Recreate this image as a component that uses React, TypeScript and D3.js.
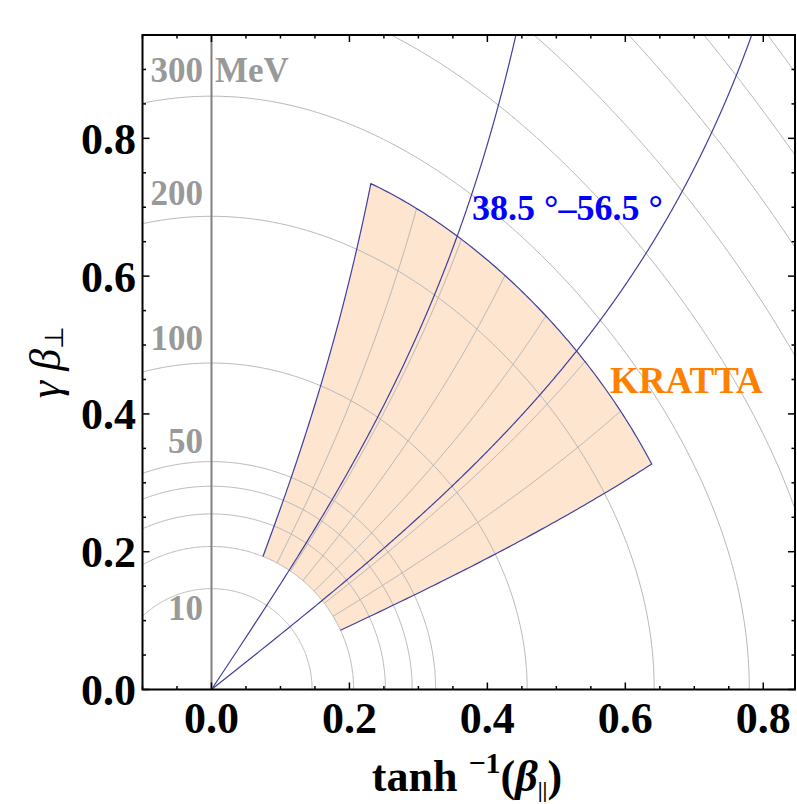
import React from 'react';
import * as d3 from 'd3';

// proton kinematics: x = atanh(beta_par), y = gamma*beta_perp
const PROTON_MASS = 938.27;

const energyArcs = [10, 20, 30, 40, 50, 100, 200, 300, 400, 500, 600, 700, 800];
const energyLabels = ['10', '50', '100', '200', '300'];
const energyLabelY = [0.101, 0.343, 0.493, 0.703, 0.882];
const angleLines = [38.5, 56.5];
const krattaAngles = [24.5, 68.5];
const krattaEnergies = [20, 257];
const krattaColumns = [30.8, 37.1, 43.4, 49.6, 55.9, 62.2];
const xTicks = [0, 0.2, 0.4, 0.6, 0.8];
const yTicks = [0, 0.2, 0.4, 0.6, 0.8];

const W = 797;
const H = 804;
const left = 142.5;
const right = 795;
const top = 35;
const bottom = 689.5;

const FONT = '"Liberation Serif", "Times New Roman", serif';

function kin(T: number, thetaDeg: number): [number, number] {
  const g = 1 + T / PROTON_MASS;
  const p = Math.sqrt(g * g - 1);
  const b = p / g;
  const th = (thetaDeg * Math.PI) / 180;
  return [Math.atanh(b * Math.cos(th)), p * Math.sin(th)];
}

const App = () => {
  const x = d3.scaleLinear().domain([-0.1, 0.846]).range([left, right]);
  const y = d3.scaleLinear().domain([0, 0.95]).range([bottom, top]);
  const line = d3
    .line<[number, number]>()
    .x((d) => x(d[0]))
    .y((d) => y(d[1]));

  const thetas = d3.range(0, 180.01, 0.5);
  const arcPath = (T: number) => line(thetas.map((t) => kin(T, t)));
  const energies = d3.range(0, 1600, 1);
  const rayPath = (th: number) => line(energies.map((e) => kin(e, th)));

  const [a0, a1] = krattaAngles;
  const [e0, e1] = krattaEnergies;
  const arcSpan = (T: number, from: number, to: number) =>
    d3.range(0, 101).map((i) => kin(T, from + ((to - from) * i) / 100));
  const raySpan = (th: number, from: number, to: number) =>
    d3.range(0, 101).map((i) => kin(from + ((to - from) * i) / 100, th));
  const kratta = [
    ...arcSpan(e1, a0, a1),
    ...raySpan(a1, e1, e0),
    ...arcSpan(e0, a1, a0),
    ...raySpan(a0, e0, e1),
  ];
  // blue edge: two sides and the outer arc (inner arc stays grey)
  const outline = [...raySpan(a1, e0, e1), ...arcSpan(e1, a1, a0), ...raySpan(a0, e1, e0)];

  const blue = '#3f3f9e';
  const gray = '#b8b8b8';

  const xMinor = x.ticks(20);
  const yMinor = y.ticks(20);

  return (
    <svg width={W} height={H} style={{ position: 'absolute', left: 0, top: 0, background: '#fff' }}>
      <defs>
        <clipPath id="plot">
          <rect x={left} y={top} width={right - left} height={bottom - top} />
        </clipPath>
      </defs>
      <g clipPath="url(#plot)">
        <path d={line(kratta) + 'Z'} fill="#fde5cf" stroke="none" />
        {energyArcs.map((T) => (
          <path key={T} d={arcPath(T) || ''} fill="none" stroke={gray} strokeWidth={1} />
        ))}
        {krattaColumns.map((th) => (
          <path key={th} d={line(raySpan(th, e0, e1)) || ''} fill="none" stroke={gray} strokeWidth={1} />
        ))}
        <path d={line(outline) || ''} fill="none" stroke={blue} strokeWidth={1.2} />
        {angleLines.map((th) => (
          <path key={th} d={rayPath(th) || ''} fill="none" stroke={blue} strokeWidth={1.2} />
        ))}
        <line x1={x(0)} x2={x(0)} y1={top} y2={bottom} stroke="#808080" strokeWidth={2} />
      </g>

      {/* frame and ticks */}
      <rect x={left} y={top} width={right - left} height={bottom - top} fill="none" stroke="#000" strokeWidth={2} />
      {xMinor.map((v) => {
        const major = xTicks.some((t) => Math.abs(t - v) < 1e-6);
        const len = major ? 7 : 3.5;
        return (
          <g key={'x' + v}>
            <line x1={x(v)} x2={x(v)} y1={bottom} y2={bottom - len} stroke="#000" strokeWidth={1.5} />
            <line x1={x(v)} x2={x(v)} y1={top} y2={top + len} stroke="#000" strokeWidth={1.5} />
          </g>
        );
      })}
      {yMinor.map((v) => {
        const major = yTicks.some((t) => Math.abs(t - v) < 1e-6);
        const len = major ? 7 : 3.5;
        return (
          <g key={'y' + v}>
            <line x1={left} x2={left + len} y1={y(v)} y2={y(v)} stroke="#000" strokeWidth={1.5} />
            <line x1={right} x2={right - len} y1={y(v)} y2={y(v)} stroke="#000" strokeWidth={1.5} />
          </g>
        );
      })}

      <g fontFamily={FONT} fontWeight="bold" fontSize={44} fill="#000">
        {xTicks.map((t) => (
          <text key={t} x={x(t)} y={733} textAnchor="middle">
            {t.toFixed(1)}
          </text>
        ))}
        {yTicks.map((t) => (
          <text key={t} x={136} y={y(t) + 15.5} textAnchor="end">
            {t.toFixed(1)}
          </text>
        ))}
      </g>

      {/* energy labels */}
      <g fontFamily={FONT} fontWeight="bold" fontSize={35} fill="#999">
        {energyLabels.map((l, i) => (
          <text key={l} x={203} y={y(energyLabelY[i])} textAnchor="end">
            {l}
          </text>
        ))}
        <text x={215} y={y(energyLabelY[4])}>MeV</text>
      </g>

      <text x={472} y={220} fontFamily={FONT} fontWeight="bold" fontSize={36} fill="#0000ff">
        38.5 °–56.5 °
      </text>
      <text x={610} y={393} fontFamily={FONT} fontWeight="bold" fontSize={37} fill="#ff8000">
        KRATTA
      </text>

      {/* axis titles */}
      <text x={467} y={791} textAnchor="middle" fontFamily={FONT} fontWeight="bold" fontSize={44} fill="#000">
        <tspan>tanh </tspan>
        <tspan fontSize={30} dy={-18}>−1</tspan>
        <tspan dy={18}>(</tspan>
        <tspan fontStyle="italic">β</tspan>
        <tspan fontSize={22} dy={6}>||</tspan>
        <tspan dy={-6}>)</tspan>
      </text>
      <text
        transform="translate(60,362) rotate(-90)"
        textAnchor="middle"
        fontFamily={FONT}
        fontStyle="italic"
        fontSize={44}
        fill="#000"
      >
        <tspan>γ</tspan>
        <tspan dx={10}>β</tspan>
        <tspan fontSize={26} fontStyle="normal" dy={3}>⊥</tspan>
      </text>
    </svg>
  );
};

export default App;
